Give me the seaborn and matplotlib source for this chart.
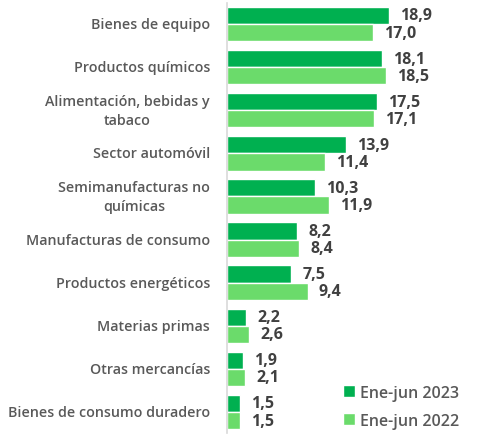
import pandas as pd
import matplotlib
matplotlib.use("Agg")
import matplotlib.pyplot as plt
import seaborn as sns

# ====== DATA ======
categories = [
    "Bienes de equipo",
    "Productos químicos",
    "Alimentación, bebidas y\ntabaco",
    "Sector automóvil",
    "Semimanufacturas no\nquímicas",
    "Manufacturas de consumo",
    "Productos energéticos",
    "Materias primas",
    "Otras mercancías",
    "Bienes de consumo duradero",
]
values_2023 = [18.9, 18.1, 17.5, 13.9, 10.3, 8.2, 7.5, 2.2, 1.9, 1.5]
values_2022 = [17.0, 18.5, 17.1, 11.4, 11.9, 8.4, 9.4, 2.6, 2.1, 1.5]
series = ["Ene-jun 2023", "Ene-jun 2022"]

df = pd.DataFrame({
    "categoria": categories * 2,
    "valor": values_2023 + values_2022,
    "serie": [series[0]] * len(categories) + [series[1]] * len(categories),
})

# ====== STYLE ======
sns.set_theme(style="white")
plt.rcParams["font.family"] = ["Open Sans", "DejaVu Sans"]
palette = {series[0]: "#00B050", series[1]: "#6BDB6B"}
text_gray = "#595959"

fig = plt.figure(figsize=(4.81, 4.39), dpi=100)
ax = fig.add_axes([227 / 481, 1 - 434.5 / 439, (481 - 227) / 481, 431 / 439])

sns.barplot(data=df, y="categoria", x="valor", hue="serie", palette=palette,
            orient="h", width=0.8, saturation=1, ax=ax)

ax.set_xlim(0, 29.6)
ax.set_ylim(len(categories) - 0.5, -0.5)
ax.set_xlabel("")
ax.set_ylabel("")
ax.set_xticks([])
ax.set_yticks([])
for side in ["top", "right", "bottom"]:
    ax.spines[side].set_visible(False)
ax.spines["left"].set_color("#D9D9D9")
ax.spines["left"].set_linewidth(1.2)

# value labels
for cont in ax.containers:
    ax.bar_label(cont, labels=[f"{v:.1f}".replace(".", ",") for v in cont.datavalues],
                 padding=8, fontsize=11.5, fontweight="bold", color="#404040")

# category labels: first line right aligned next to the axis,
# following lines centred under it
renderer = fig.canvas.get_renderer()
line_gap = 19
for i, cat in enumerate(categories):
    lines = cat.split("\n")
    n = len(lines)
    first = ax.annotate(lines[0], xy=(0, i), xycoords=("axes fraction", "data"),
                        xytext=(-17, (n - 1) / 2 * line_gap), textcoords="offset pixels",
                        ha="right", va="center", fontsize=10.3,
                        fontweight="semibold", color=text_gray)
    bb = first.get_window_extent(renderer)
    ax_left = ax.get_window_extent(renderer).x0
    for j, line in enumerate(lines[1:], start=1):
        ax.annotate(line, xy=(0, i), xycoords=("axes fraction", "data"),
                    xytext=((bb.x0 + bb.x1) / 2 - ax_left, ((n - 1) / 2 - j) * line_gap),
                    textcoords="offset pixels", ha="center", va="center",
                    fontsize=10.3, fontweight="semibold", color=text_gray)

# legend
leg = fig.legend(*ax.get_legend_handles_labels(), loc="lower right",
                 bbox_to_anchor=(0.985, -0.012), frameon=False,
                 handlelength=0.75, handleheight=0.75, handletextpad=0.35,
                 labelspacing=0.75, fontsize=11.5)
ax.get_legend().remove()
for t in leg.get_texts():
    t.set_color(text_gray)
    t.set_fontweight("semibold")

fig.savefig("out.png", dpi=100)
